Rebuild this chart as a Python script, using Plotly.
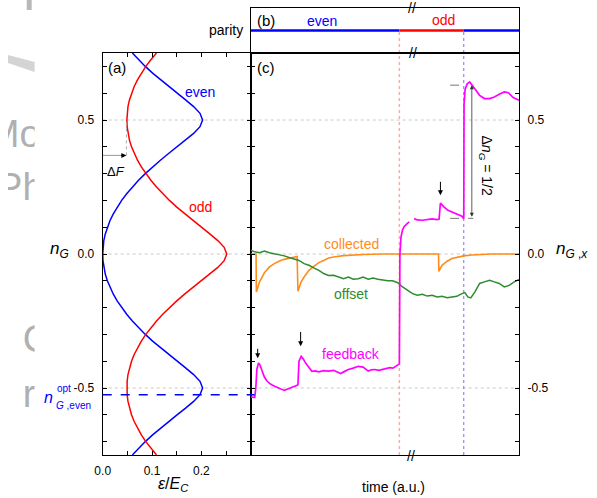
import plotly.graph_objects as go

W, H = 597, 498
FONT = "Liberation Sans, Arial, sans-serif"

# ---------------- data: panel (a) ----------------
ng_grid = [-0.75, -0.725, -0.7, -0.675, -0.65, -0.625, -0.6, -0.575, -0.55, -0.525,
           -0.5, -0.475, -0.45, -0.425, -0.4, -0.375, -0.35, -0.325, -0.3, -0.275,
           -0.25, -0.225, -0.2, -0.175, -0.15, -0.125, -0.1, -0.075, -0.05, -0.025,
           0.0, 0.025, 0.05, 0.075, 0.1, 0.125, 0.15, 0.175, 0.2, 0.225,
           0.25, 0.275, 0.3, 0.325, 0.35, 0.375, 0.4, 0.425, 0.45, 0.475,
           0.5, 0.525, 0.55, 0.575, 0.6, 0.625, 0.65, 0.675, 0.7, 0.725, 0.75]
eps_even = [0.0601, 0.0726, 0.0863, 0.1011, 0.1169, 0.1335, 0.1507, 0.1680, 0.1843, 0.1972,
            0.2025, 0.1972, 0.1843, 0.1680, 0.1507, 0.1335, 0.1169, 0.1011, 0.0863, 0.0726,
            0.0601, 0.0486, 0.0384, 0.0293, 0.0215, 0.0148, 0.0094, 0.0052, 0.0022, 0.0005,
            0.0000,
            0.0005, 0.0022, 0.0052, 0.0094, 0.0148, 0.0215, 0.0293, 0.0384, 0.0486, 0.0601,
            0.0726, 0.0863, 0.1011, 0.1169, 0.1335, 0.1507, 0.1680, 0.1843, 0.1972, 0.2025,
            0.1972, 0.1843, 0.1680, 0.1507, 0.1335, 0.1169, 0.1011, 0.0863, 0.0726, 0.0601]
eps_odd = [0.1091, 0.0976, 0.0874, 0.0783, 0.0705, 0.0638, 0.0584, 0.0542, 0.0512, 0.0495,
           0.0490, 0.0495, 0.0512, 0.0542, 0.0584, 0.0638, 0.0705, 0.0783, 0.0874, 0.0976,
           0.1091, 0.1216, 0.1353, 0.1501, 0.1659, 0.1825, 0.1997, 0.2170, 0.2333, 0.2462,
           0.2515,
           0.2462, 0.2333, 0.2170, 0.1997, 0.1825, 0.1659, 0.1501, 0.1353, 0.1216, 0.1091,
           0.0976, 0.0874, 0.0783, 0.0705, 0.0638, 0.0584, 0.0542, 0.0512, 0.0495, 0.0490,
           0.0495, 0.0512, 0.0542, 0.0584, 0.0638, 0.0705, 0.0783, 0.0874, 0.0976, 0.1091]
ng_opt_even = -0.525
delta_F = 0.048
delta_F_ng = 0.368

# ---------------- data: panels (b), (c) ----------------
feedback_pts = [(0, -0.534), (1.5, -0.535), (1.9, -0.50), (2.3, -0.43), (2.9, -0.407),
                (3.5, -0.415), (4.2, -0.435), (5.1, -0.459), (6.0, -0.473), (7.0, -0.483),
                (8.3, -0.491), (9.6, -0.496), (11.0, -0.503), (12.5, -0.509), (13.8, -0.504),
                (15.1, -0.499), (16.2, -0.497), (17.3, -0.49), (17.6, -0.488), (18.0, -0.40),
                (18.8, -0.382), (19.6, -0.392), (20.6, -0.409), (21.7, -0.425), (22.8, -0.438),
                (24.0, -0.436), (25.4, -0.44), (27.2, -0.435), (29.0, -0.437), (30.9, -0.434),
                (32.2, -0.441), (33.5, -0.446), (35.0, -0.438), (36.4, -0.431), (38.2, -0.426),
                (40.1, -0.419), (41.9, -0.422), (43.8, -0.437), (45.0, -0.432), (46.3, -0.431),
                (47.8, -0.434), (49.3, -0.43), (50.6, -0.428), (51.8, -0.424), (53.0, -0.426),
                (54.0, -0.419), (55.1, -0.413), (55.4, -0.41), (55.6, 0.0), (56.0, 0.063),
                (56.6, 0.09), (57.2, 0.103), (58.5, 0.115), (59.1, 0.12), (None, None),
                (60.9, 0.132), (62.1, 0.127), (64.0, 0.126), (65.8, 0.128), (67.6, 0.131),
                (69.5, 0.128), (70.2, 0.13), (70.7, 0.19), (71.4, 0.182), (72.1, 0.175),
                (73.5, 0.163), (75.0, 0.157), (76.8, 0.151), (78.7, 0.141), (79.4, 0.132),
                (79.5, 0.56), (79.9, 0.615), (80.7, 0.635), (81.6, 0.642), (82.5, 0.632),
                (83.5, 0.617), (85.3, 0.592), (87.1, 0.58), (89.0, 0.58), (90.8, 0.586),
                (92.6, 0.596), (94.5, 0.605), (96.0, 0.602), (97.8, 0.584), (100, 0.574)]
collected_pts = [(0, 0.0), (2.0, 0.0), (2.1, -0.142), (3.3, -0.104), (5.1, -0.07), (7.0, -0.048),
                 (8.8, -0.036), (10.7, -0.026), (12.5, -0.02), (14.3, -0.015), (17.3, -0.009),
                 (17.6, -0.139), (18.8, -0.104), (19.9, -0.086), (21.7, -0.061), (23.5, -0.046),
                 (25.4, -0.032), (27.2, -0.024), (29.0, -0.015), (30.9, -0.011), (34.6, -0.006),
                 (41.9, -0.002), (49.3, 0.0), (70.0, 0.0), (70.1, -0.065), (71.3, -0.042),
                 (73.2, -0.027), (75.0, -0.017), (76.8, -0.012), (79.4, -0.007), (82.4, -0.004),
                 (86.0, -0.002), (89.7, 0.0), (100, 0.0)]
offset_pts = [(0, 0.014), (1.5, 0.008), (3.3, 0.005), (5.1, 0.011), (7.0, 0.005), (8.8, 0.001),
              (10.7, -0.001), (12.5, -0.007), (14.3, -0.013), (16.2, -0.02), (18.0, -0.024),
              (19.9, -0.036), (21.7, -0.042), (23.5, -0.052), (25.4, -0.061), (27.2, -0.073),
              (29.0, -0.08), (30.9, -0.079), (32.7, -0.086), (34.6, -0.092), (36.4, -0.086),
              (38.2, -0.094), (40.1, -0.092), (41.9, -0.086), (43.8, -0.094), (45.6, -0.09),
              (47.4, -0.094), (49.3, -0.098), (51.1, -0.10), (52.9, -0.10), (54.8, -0.107),
              (56.6, -0.123), (58.5, -0.135), (60.3, -0.148), (62.1, -0.154), (64.0, -0.150),
              (65.8, -0.157), (67.6, -0.154), (69.5, -0.16), (71.3, -0.158), (73.2, -0.163),
              (75.0, -0.16), (76.8, -0.158), (78.7, -0.148), (79.8, -0.144), (80.9, -0.16),
              (82.0, -0.164), (83.5, -0.142), (85.3, -0.11), (87.1, -0.104), (89.0, -0.098),
              (90.8, -0.104), (92.6, -0.11), (94.5, -0.123), (96.3, -0.117), (98.2, -0.104),
              (100, -0.095)]
parity_segments = [(0, 55.4, "even"), (55.4, 79.4, "odd"), (79.4, 100, "even")]
switch_times = [55.4, 79.4]
# event arrows: (time, tail nG, head nG)
event_arrows = [(2.6, -0.348, -0.389), (18.6, -0.285, -0.344), (70.7, 0.275, 0.219)]
dng_time = 82.4
dng_low, dng_high = 0.133, 0.63

ytick_vals = [-0.7, -0.6, -0.5, -0.4, -0.3, -0.2, -0.1, 0.0, 0.1, 0.2, 0.3, 0.4, 0.5, 0.6, 0.7]
ytick_text = ["", "", "-0.5", "", "", "", "", "0.0", "", "", "", "", "0.5", "", ""]
xtick_vals_a = [0.0, 0.05, 0.1, 0.15, 0.2, 0.25, 0.3]
xtick_text_a = ["0.0", "", "0.1", "", "0.2", "", ""]

BLUE, RED = "#0000ff", "#ff0000"
ORANGE, GREEN, MAGENTA = "#ff8c1a", "#2e8b2e", "#ff00ff"
PCOL = {"even": BLUE, "odd": RED}


def px(x):
    return x / W


def py(y):
    return 1 - y / H


XA = [px(96), px(246)]
XC = [px(246), px(518)]
YAC = [py(455), py(53)]
YB = [py(53), py(8)]

fig = go.Figure()

# panel (a)
fig.add_trace(go.Scatter(x=eps_even, y=ng_grid, mode="lines", line=dict(color=BLUE, width=1.5),
                         xaxis="x", yaxis="y"))
fig.add_trace(go.Scatter(x=eps_odd, y=ng_grid, mode="lines", line=dict(color=RED, width=1.5),
                         xaxis="x", yaxis="y"))


def unzip(pts):
    return [p[0] for p in pts], [p[1] for p in pts]


# panel (c)
tc, yc = unzip(collected_pts)
to, yo = unzip(offset_pts)
tf, yf = unzip(feedback_pts)
fig.add_trace(go.Scatter(x=tc, y=yc, mode="lines", line=dict(color=ORANGE, width=1.6),
                         xaxis="x2", yaxis="y2"))
fig.add_trace(go.Scatter(x=to, y=yo, mode="lines", line=dict(color=GREEN, width=1.5),
                         xaxis="x2", yaxis="y2"))
fig.add_trace(go.Scatter(x=tf, y=yf, mode="lines", line=dict(color=MAGENTA, width=1.7),
                         xaxis="x2", yaxis="y2", connectgaps=False))

# panel (b)
for t0, t1, par in parity_segments:
    fig.add_trace(go.Scatter(x=[t0, t1], y=[0.5, 0.5], mode="lines",
                             line=dict(color=PCOL[par], width=2.6), xaxis="x3", yaxis="y3"))

# faded background letters at the left edge (clipped area)
for s, x, y, pos in [("Mo", 33, 137, "middle left"), ("Ph", 36, 190, "middle left"),
                     ("C", 15, 342, "middle right"), ("r", 15, 397, "middle right")]:
    fig.add_trace(go.Scatter(x=[x], y=[y], mode="text", text=[s], textposition=pos,
                             textfont=dict(family=FONT, size=38, color="#b0b0b0"),
                             xaxis="x4", yaxis="y4", cliponaxis=True))

shapes = []
# dotted gridlines
for v in [0.5, 0.0, -0.5]:
    shapes.append(dict(type="line", xref="paper", yref="y", x0=XA[0], x1=XC[1], y0=v, y1=v,
                       line=dict(color="#c8c8c8", width=1, dash="dot"), layer="below"))
# switch lines
shapes.append(dict(type="line", xref="x2", yref="paper", x0=switch_times[0], x1=switch_times[0],
                   y0=py(455), y1=py(30), line=dict(color="#ffa8a8", width=1.5, dash="dot"), layer="below"))
shapes.append(dict(type="line", xref="x2", yref="paper", x0=switch_times[1], x1=switch_times[1],
                   y0=py(455), y1=py(30), line=dict(color="#7070ff", width=1, dash="dot"), layer="below"))
# n_G opt line
shapes.append(dict(type="line", xref="paper", yref="y", x0=XA[0], x1=px(250), y0=ng_opt_even,
                   y1=ng_opt_even, line=dict(color=BLUE, width=1.5, dash="dash")))
# Delta F helpers
shapes.append(dict(type="line", xref="x", yref="y", x0=0, x1=delta_F - 0.004, y0=delta_F_ng,
                   y1=delta_F_ng, line=dict(color="#999999", width=1)))
shapes.append(dict(type="line", xref="x", yref="y", x0=delta_F, x1=delta_F, y0=delta_F_ng,
                   y1=0.5, line=dict(color="#aaaaaa", width=1, dash="dot")))
# Delta nG dashed levels
shapes.append(dict(type="line", xref="x2", yref="y2", x0=74.3, x1=79.8, y0=dng_high, y1=dng_high,
                   line=dict(color="#777777", width=1, dash="dash")))
shapes.append(dict(type="line", xref="x2", yref="y2", x0=74.3, x1=82.9, y0=dng_low, y1=dng_low,
                   line=dict(color="#777777", width=1, dash="dash")))
# background artefacts (faded slide remnants at the left edge)
shapes.append(dict(type="path", xref="paper", yref="paper",
                   path="M 0 {a} L {r} {b} L {r} {c} L 0 {d} Z".format(
                       a=py(55), b=py(62), c=py(72), d=py(63), r=px(27)),
                   fillcolor="#d4d4d4", line=dict(width=0)))
shapes.append(dict(type="rect", xref="paper", yref="paper", x0=px(19), x1=px(24), y0=py(10), y1=py(0),
                   fillcolor="#b8b8b8", line=dict(width=0)))


def txt(s, x, y, size=14, color="black", xanchor="center", yanchor="middle", **kw):
    return dict(text=s, x=px(x), y=py(y), xref="paper", yref="paper", showarrow=False,
                font=dict(family=FONT, size=size, color=color), xanchor=xanchor,
                yanchor=yanchor, **kw)


ann = [
    txt("(a)", 110, 67, size=15), txt("(b)", 261, 21, size=15), txt("(c)", 262, 67, size=15),
    txt("even", 195, 92, color=BLUE), txt("odd", 195, 207, color=RED),
    txt("parity", 240, 30, xanchor="right", size=14),
    txt("even", 318, 21, color=BLUE), txt("odd", 441, 20, color=RED),
    txt("collected", 348, 244, color=ORANGE), txt("offset", 348, 294, color=GREEN),
    txt("feedback", 348, 354, color=MAGENTA),
    txt("Δ<i>F</i>", 109, 171, size=13),
    txt("<i>n</i><sub><i>G</i></sub>", 52, 250, size=17),
    txt("<i>n</i><sub><i>G</i> ,<i>x</i></sub>", 572, 250, size=17),
    txt("<i>ε</i>/<i>E</i><sub><i>C</i></sub>", 168, 484, size=16),
    txt("time (a.u.)", 391, 487, size=14),
    txt("<i>n</i>", 41, 397, size=16, color=BLUE),
    txt("opt", 48, 388, size=10, color=BLUE, xanchor="left"),
    txt("<i>G</i> ,even", 47, 405, size=10, color=BLUE, xanchor="left"),
    txt("Δ<i>n</i><sub><i>G</i></sub> = 1/2", 484, 165, size=14, textangle=90),
    txt("//", 409, 8, size=14), txt("//", 410, 53, size=14), txt("//", 408, 456, size=14),
]
for t, y0, y1 in event_arrows:
    ann.append(dict(x=t, y=y1, ax=t, ay=y0, xref="x2", yref="y2", axref="x2", ayref="y2",
                    showarrow=True, arrowhead=2, arrowsize=1, arrowwidth=1, arrowcolor="black",
                    text=""))
ann.append(dict(x=dng_time, y=dng_high, ax=dng_time, ay=dng_low, xref="x2", yref="y2",
                axref="x2", ayref="y2", showarrow=True, arrowhead=2, arrowsize=1,
                arrowwidth=0.8, arrowcolor="#333333", arrowside="end+start", text=""))
ann.append(dict(x=delta_F, y=delta_F_ng, ax=delta_F - 0.014, ay=delta_F_ng, xref="x", yref="y",
                axref="x", ayref="y", showarrow=True, arrowhead=2, arrowsize=1, arrowwidth=1,
                arrowcolor="black", text=""))

axis_common = dict(showline=True, linecolor="black", linewidth=1.2, showgrid=False, zeroline=False,
                   tickfont=dict(family=FONT, size=12, color="black"))

fig.update_layout(
    width=W, height=H, margin=dict(l=0, r=0, t=0, b=0),
    paper_bgcolor="white", plot_bgcolor="rgba(0,0,0,0)", showlegend=False,
    xaxis=dict(domain=XA, anchor="y", range=[0, 0.3], tickmode="array", tickvals=xtick_vals_a,
               ticktext=xtick_text_a, ticks="inside", ticklen=4, tickcolor="black", mirror="ticks",
               ticklabelstandoff=4, **axis_common),
    yaxis=dict(domain=YAC, anchor="x", range=[-0.75, 0.75], tickmode="array", tickvals=ytick_vals,
               ticktext=ytick_text, ticks="inside", ticklen=4, tickcolor="black", mirror="ticks",
               ticklabelstandoff=5, **axis_common),
    xaxis2=dict(domain=XC, anchor="y2", range=[0, 100], ticks="", showticklabels=False,
                mirror=True, **axis_common),
    yaxis2=dict(domain=YAC, anchor="x2", side="right", range=[-0.75, 0.75], tickmode="array",
                tickvals=ytick_vals, ticktext=ytick_text, ticks="inside", ticklen=4,
                tickcolor="black", mirror="ticks", ticklabelstandoff=5, **axis_common),
    xaxis3=dict(domain=XC, anchor="y3", range=[0, 100], ticks="", showticklabels=False,
                mirror=True, **axis_common),
    yaxis3=dict(domain=YB, anchor="x3", range=[0, 1], ticks="", showticklabels=False,
                mirror=True, **axis_common),
    xaxis4=dict(domain=[0, px(27)], anchor="y4", range=[0, 27], visible=False),
    yaxis4=dict(domain=[0, 1], anchor="x4", range=[H, 0], visible=False),
    shapes=shapes, annotations=ann,
)

fig.write_html("out.html")
